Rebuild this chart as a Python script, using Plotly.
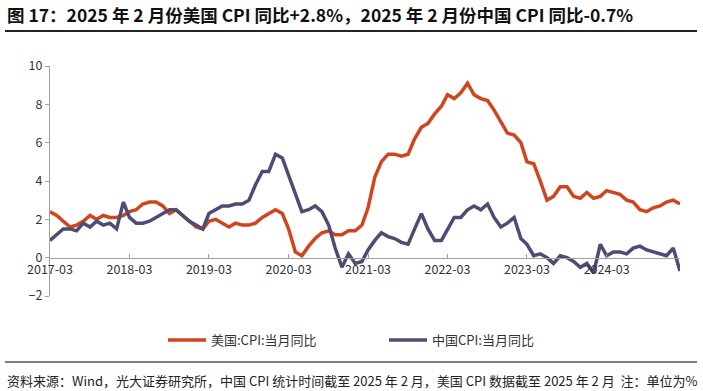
import plotly.graph_objects as go
import pandas as pd

months = pd.date_range("2017-03-01", "2025-02-01", freq="MS")

us_cpi = [
    2.4, 2.2, 1.9, 1.6, 1.7, 1.9, 2.2, 2.0, 2.2, 2.1,
    2.1, 2.2, 2.4, 2.5, 2.8, 2.9, 2.9, 2.7, 2.3, 2.5, 2.2, 1.9,
    1.6, 1.5, 1.9, 2.0, 1.8, 1.6, 1.8, 1.7, 1.7, 1.8, 2.1, 2.3,
    2.5, 2.3, 1.5, 0.3, 0.1, 0.6, 1.0, 1.3, 1.4, 1.2, 1.2, 1.4,
    1.4, 1.7, 2.6, 4.2, 5.0, 5.4, 5.4, 5.3, 5.4, 6.2, 6.8, 7.0,
    7.5, 7.9, 8.5, 8.3, 8.6, 9.1, 8.5, 8.3, 8.2, 7.7, 7.1, 6.5,
    6.4, 6.0, 5.0, 4.9, 4.0, 3.0, 3.2, 3.7, 3.7, 3.2, 3.1, 3.4,
    3.1, 3.2, 3.5, 3.4, 3.3, 3.0, 2.9, 2.5, 2.4, 2.6, 2.7, 2.9,
    3.0, 2.8,
]

cn_cpi = [
    0.9, 1.2, 1.5, 1.5, 1.4, 1.8, 1.6, 1.9, 1.7, 1.8,
    1.5, 2.9, 2.1, 1.8, 1.8, 1.9, 2.1, 2.3, 2.5, 2.5, 2.2, 1.9,
    1.7, 1.5, 2.3, 2.5, 2.7, 2.7, 2.8, 2.8, 3.0, 3.8, 4.5, 4.5,
    5.4, 5.2, 4.3, 3.3, 2.4, 2.5, 2.7, 2.4, 1.7, 0.5, -0.5, 0.2,
    -0.3, -0.2, 0.4, 0.9, 1.3, 1.1, 1.0, 0.8, 0.7, 1.5, 2.3, 1.5,
    0.9, 0.9, 1.5, 2.1, 2.1, 2.5, 2.7, 2.5, 2.8, 2.1, 1.6, 1.8,
    2.1, 1.0, 0.7, 0.1, 0.2, 0.0, -0.3, 0.1, 0.0, -0.2, -0.5, -0.3,
    -0.8, 0.7, 0.1, 0.3, 0.3, 0.2, 0.5, 0.6, 0.4, 0.3, 0.2, 0.1,
    0.5, -0.7,
]

y_ticks = [-2, 0, 2, 4, 6, 8, 10]

series_names = ["美国:CPI:当月同比", "中国CPI:当月同比"]
series_colors = ["#D0441E", "#4E4C74"]

title_text = "图 17：2025 年 2 月份美国 CPI 同比+2.8%，2025 年 2 月份中国 CPI 同比-0.7%"
source_text = ("资料来源：Wind，光大证券研究所，中国 CPI 统计时间截至 2025 年 2 月，"
               "美国 CPI 数据截至 2025 年 2 月  注：单位为%")

FONT = "Noto Sans CJK SC"
W, H = 703, 391
# paper area spans between the two horizontal rules (y 31..362, x 5..697)
ML, MR, MT, MB = 5, 6, 31, 29
PW, PH = W - ML - MR, H - MT - MB
# main plotting box in pixels
PX0, PX1, PY_TOP, PY_BOT = 50, 680, 66, 296


def px_x(p):
    return (p - ML) / PW


def px_y(p):
    return (H - MB - p) / PH


fig = go.Figure()
for name, vals, col in zip(series_names, [us_cpi, cn_cpi], series_colors):
    fig.add_trace(go.Scatter(
        x=months, y=vals, name=name, mode="lines",
        line=dict(color=col, width=3.5),
    ))

# empty helper traces so the two decorative rule axes get drawn
for ax in ["x2", "x3"]:
    fig.add_trace(go.Scatter(x=[None], y=[None], xaxis=ax, yaxis="y",
                             mode="lines", showlegend=False, hoverinfo="skip"))

ymin, ymax = y_ticks[0], y_ticks[-1]
y_dom = [px_y(PY_BOT), px_y(PY_TOP)]
zero_pos = y_dom[0] + (0 - ymin) / (ymax - ymin) * (y_dom[1] - y_dom[0])

rule_axis = dict(showline=True, showgrid=False, zeroline=False,
                 showticklabels=False, ticks="", domain=[0, 1],
                 anchor="free", fixedrange=True, range=[0, 1])

fig.update_layout(
    width=W, height=H,
    margin=dict(l=ML, r=MR, t=MT, b=MB, autoexpand=False),
    paper_bgcolor="white", plot_bgcolor="rgba(0,0,0,0)",
    font=dict(family=FONT, size=12, color="#333333"),
    xaxis=dict(
        domain=[px_x(PX0), px_x(PX1)],
        range=[months[0], months[-1]],
        anchor="free", position=zero_pos,
        showline=True, linecolor="#A0A0A0", linewidth=1,
        showgrid=False, zeroline=False,
        tickmode="linear", tick0="2017-03-01", dtick="M12",
        tickformat="%Y-%m",
        ticks="inside", ticklen=4, tickcolor="#A0A0A0",
        tickfont=dict(size=12.5, color="#333333"),
        automargin=False,
    ),
    yaxis=dict(
        domain=y_dom,
        range=[ymin, ymax],
        tickvals=y_ticks,
        showline=True, linecolor="#A0A0A0", linewidth=1,
        showgrid=False, zeroline=False,
        ticks="outside", ticklen=4, tickcolor="#A0A0A0",
        tickfont=dict(size=12.5, color="#333333"),
        automargin=False,
        anchor="x",
    ),
    # decorative rules under the title and above the source note
    xaxis2=dict(rule_axis, position=1, linecolor="#222222", linewidth=1.5),
    xaxis3=dict(rule_axis, position=0, linecolor="#808080", linewidth=2),
    legend=dict(
        orientation="h",
        x=px_x(163), xanchor="left",
        y=px_y(340), yanchor="middle",
        font=dict(size=13, color="#333333"),
        entrywidth=168, entrywidthmode="pixels",
        itemwidth=38,
        bgcolor="rgba(0,0,0,0)",
    ),
    annotations=[
        dict(text="<b>" + title_text + "</b>", xref="paper", yref="paper",
             x=px_x(5), xanchor="left", y=px_y(15), yanchor="middle",
             showarrow=False, font=dict(family=FONT, size=17.5, color="#111111")),
        dict(text=source_text, xref="paper", yref="paper",
             x=px_x(5), xanchor="left", y=px_y(380), yanchor="middle",
             showarrow=False, font=dict(size=13, color="#222222")),
    ],
)

fig.write_html("out.html", config={"displayModeBar": False},
               post_script="document.body.style.margin='0px';")
